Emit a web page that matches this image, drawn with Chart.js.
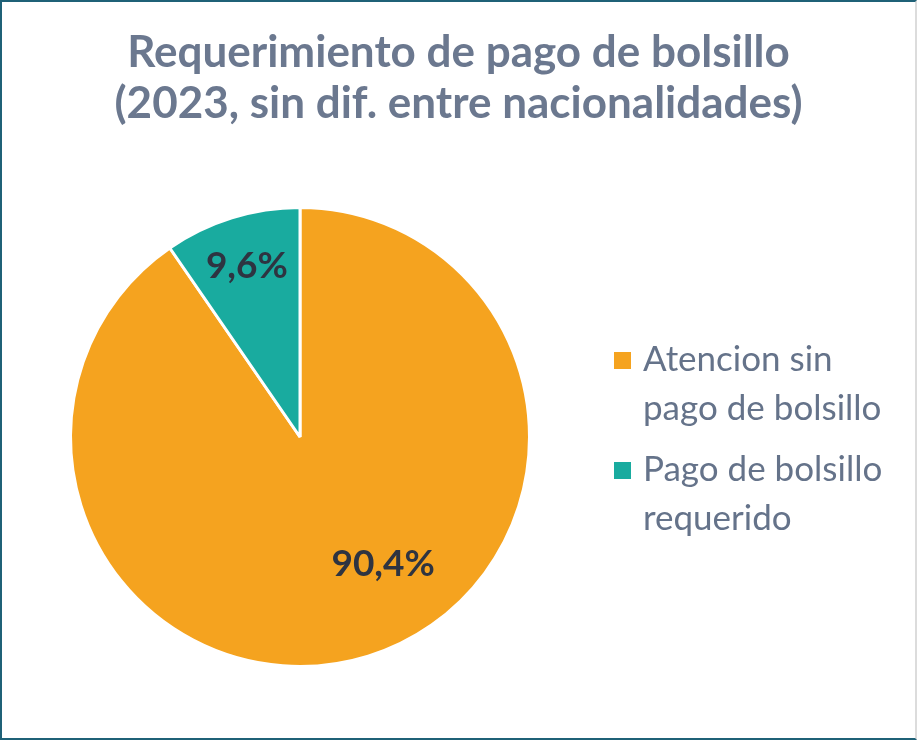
<!DOCTYPE html>
<html>
<head>
<meta charset="utf-8">
<script src="https://cdn.jsdelivr.net/npm/chart.js@4.4.1/dist/chart.umd.min.js"></script>
<style>
  body { margin: 0; background: #fff; }
  #wrap {
    width: 913px; height: 736px;
    border: 2px solid #1f6177; border-right-color: #dcdcdc;
  }
  canvas { display: block; }
</style>
</head>
<body>
<div id="wrap"><canvas id="pie" width="913" height="736"></canvas></div>
<script>
const titleLines = ['Requerimiento de pago de bolsillo', '(2023, sin dif. entre nacionalidades)'];
const categories = [['Atencion sin', 'pago de bolsillo'], ['Pago de bolsillo', 'requerido']];
const shares = [90.4, 9.6];
const colors = ['#F5A31F', '#19AB9F'];

const FONT = 'Lato, "Noto Sans", sans-serif';
const fmt = v => v.toFixed(1).replace('.', ',') + '%';

// where to put each percentage inside its slice (angle shift in degrees, radius fraction)
const labelSpots = [{ shift: -16, r: 0.66 }, { shift: 0, r: 0.78 }];

const decor = {
  id: 'decor',
  afterDraw(chart) {
    const ctx = chart.ctx;
    ctx.save();

    // title
    ctx.fillStyle = '#6b788f';
    ctx.font = `bold 44px ${FONT}`;
    ctx.textAlign = 'center';
    ctx.textBaseline = 'middle';
    titleLines.forEach((t, i) => ctx.fillText(t, chart.width / 2, 51 + i * 51));

    // slice labels
    ctx.fillStyle = '#2e3441';
    ctx.font = `bold 37px ${FONT}`;
    chart.getDatasetMeta(0).data.forEach((arc, i) => {
      const p = arc.getProps(['x', 'y', 'startAngle', 'endAngle', 'outerRadius'], true);
      const a = (p.startAngle + p.endAngle) / 2 + labelSpots[i].shift * Math.PI / 180;
      const r = p.outerRadius * labelSpots[i].r;
      ctx.fillText(fmt(shares[i]), p.x + Math.cos(a) * r, p.y + Math.sin(a) * r);
    });

    // legend
    ctx.textAlign = 'left';
    ctx.font = `35px ${FONT}`;
    categories.forEach((lines, i) => {
      const top = 350 + i * 110;
      ctx.fillStyle = colors[i];
      ctx.fillRect(612, top, 17, 17);
      ctx.fillStyle = '#65738a';
      lines.forEach((t, j) => ctx.fillText(t, 641, top + 8 + j * 49));
    });

    ctx.restore();
  }
};

new Chart(document.getElementById('pie'), {
  type: 'pie',
  data: {
    labels: categories.map(c => c.join(' ')),
    datasets: [{
      data: shares,
      backgroundColor: colors,
      borderColor: '#ffffff',
      borderWidth: 3,
      hoverOffset: 0
    }]
  },
  options: {
    responsive: false,
    animation: false,
    layout: { padding: { left: 67, right: 384, top: 204, bottom: 70 } },
    plugins: {
      legend: { display: false },
      tooltip: { enabled: false },
      title: { display: false }
    }
  },
  plugins: [decor]
});
</script>
</body>
</html>
